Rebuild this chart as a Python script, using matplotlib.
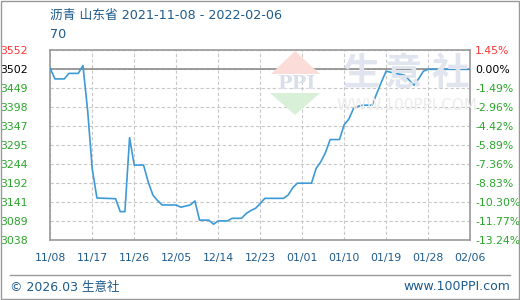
import numpy as np
import pandas as pd
import matplotlib
matplotlib.use("Agg")
import matplotlib.pyplot as plt
from matplotlib.patches import Polygon, Rectangle

plt.rcParams['font.family'] = ['DejaVu Sans', 'Noto Sans CJK SC']

# price of asphalt, Shandong (yuan/ton)
DAYS = [0, 1, 3, 4, 6, 7, 8, 9, 10, 14, 15, 16, 17, 18, 20, 21, 22, 23, 24,
        27, 28, 29, 30, 31, 32, 34, 35, 36, 38, 39, 41, 42, 43, 44, 45, 46,
        50, 51, 52, 53, 56, 57, 58, 59, 60, 62, 63, 64, 65, 66, 67, 69, 70,
        71, 72, 73, 74, 76, 77, 78, 79, 80, 81, 90]
PRICES = [3502, 3474, 3474, 3489, 3489, 3510, 3390, 3230, 3152, 3150, 3115,
          3115, 3315, 3241, 3241, 3195, 3160, 3145, 3133, 3133, 3127, 3130,
          3133, 3144, 3092, 3092, 3081, 3090, 3090, 3097, 3097, 3110, 3118,
          3124, 3137, 3151, 3151, 3160, 3180, 3192, 3192, 3232, 3250, 3275,
          3310, 3310, 3350, 3365, 3394, 3400, 3403, 3403, 3435, 3466, 3495,
          3492, 3489, 3484, 3470, 3457, 3475, 3495, 3500, 3500]
START = "2021-11-08"
BASE = 3502
PCT = [1.45, 0.00, -1.49, -2.96, -4.42, -5.89, -7.36, -8.83, -10.30, -11.77, -13.24]
LEFT_LABELS = ["3552", "3502", "3449", "3398", "3347", "3295", "3244",
               "3192", "3141", "3089", "3038"]
XTICK_LABELS = ["11/08", "11/17", "11/26", "12/05", "12/14", "12/23",
                "01/01", "01/10", "01/19", "01/28", "02/06"]

dates = pd.Timestamp(START) + pd.to_timedelta(DAYS, unit="D")
tick_dates = pd.date_range(START, periods=len(XTICK_LABELS), freq="9D")
yticks = [BASE * (1 + p / 100) for p in PCT]

blue_txt = "#1d5a8c"
red = "#ff3333"
green = "#2aa52a"

fig = plt.figure(figsize=(5.2, 3.0), dpi=100)
fig.patches.append(Rectangle((0.001, 0.002), 0.997, 0.995, transform=fig.transFigure,
                             fill=False, edgecolor="#999999", linewidth=1))
ax = fig.add_axes([0.0967, 0.2, 0.8073, 0.634])

# watermark (logo + name)
wm = dict(transform=fig.transFigure, zorder=0)
fig.patches.append(Polygon([[271 / 520, 1 - 74 / 300], [295 / 520, 1 - 51 / 300],
                            [320 / 520, 1 - 74 / 300]], closed=True,
                           facecolor="#fbdcd8", edgecolor="none", **wm))
fig.patches.append(Polygon([[270 / 520, 1 - 93 / 300], [295 / 520, 1 - 115 / 300],
                            [320 / 520, 1 - 93 / 300]], closed=True,
                           facecolor="#d8efd8", edgecolor="none", **wm))
fig.text(296 / 520, 1 - 84 / 300, "PPI", ha="center", va="center", fontsize=14,
         family="DejaVu Serif", weight="bold", color="#d8deea", zorder=0)
for cx, ch in zip([362, 403, 450], "生意社"):
    fig.text(cx / 520, 1 - 74 / 300, ch, ha="center", va="center", fontsize=27,
             family="Noto Sans CJK SC", weight="bold", color="#dfe4ee", zorder=0)
fig.text(407 / 520, 1 - 106 / 300, "WWW.100PPI.COM", ha="center", va="center",
         fontsize=11, color="#ececec", zorder=0)
ax.patch.set_alpha(0)

ax.plot(dates, PRICES, color="#3d9ad6", linewidth=1.2, zorder=3)
ax.axhline(BASE, color="#8c8c8c", linewidth=1.2, zorder=2)

ax.set_xlim(tick_dates[0], tick_dates[-1])
ax.set_ylim(yticks[-1], yticks[0])
ax.set_xticks(tick_dates)
ax.set_xticklabels(XTICK_LABELS)
ax.set_yticks(yticks)
ax.set_yticklabels(LEFT_LABELS)
ax.grid(True, color="#c8c8c8", linestyle=(0, (3, 2)), linewidth=0.8)
ax.tick_params(length=0)
ax.tick_params(axis="x", pad=9, labelsize=7.8, labelcolor=blue_txt)
ax.tick_params(axis="y", pad=16, labelsize=7.8)
for sp in ax.spines.values():
    sp.set_color("#999999")
    sp.set_linewidth(1.2)

for i, lbl in enumerate(ax.get_yticklabels()):
    lbl.set_color(red if i == 0 else ("black" if i == 1 else green))

ax2 = ax.twinx()
ax2.set_ylim(ax.get_ylim())
ax2.set_yticks(yticks)
ax2.set_yticklabels(["%.2f%%" % p for p in PCT])
ax2.tick_params(length=0, pad=3.6, labelsize=7.8)
for sp in ax2.spines.values():
    sp.set_visible(False)
for i, lbl in enumerate(ax2.get_yticklabels()):
    lbl.set_color(red if i == 0 else ("black" if i == 1 else green))

fig.text(50 / 520, 1 - 15 / 300, "沥青 山东省 2021-11-08 - 2022-02-06", ha="left",
         va="center", fontsize=9.2, color=blue_txt)
fig.text(50 / 520, 1 - 34 / 300, "70", ha="left", va="center", fontsize=9.2,
         color=blue_txt)

fig.add_artist(plt.Line2D([10 / 520, 510 / 520], [1 - 275 / 300, 1 - 275 / 300],
                          transform=fig.transFigure, color="#999999", linewidth=1))
fig.text(10 / 520, 1 - 287 / 300, "© 2026.03 生意社", ha="left", va="center",
         fontsize=9, color=blue_txt)
fig.text(510 / 520, 1 - 287 / 300, "www.100PPI.com", ha="right", va="center",
         fontsize=9, color=blue_txt)

fig.savefig("out.png", dpi=100)
